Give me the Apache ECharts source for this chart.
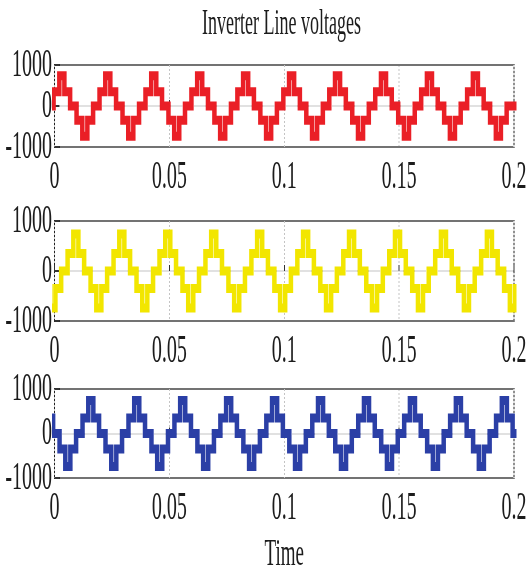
<!DOCTYPE html>
<html>
<head>
<meta charset="utf-8">
<script src="https://cdn.jsdelivr.net/npm/echarts@6/dist/echarts.min.js"></script>
<style>
  html, body { margin: 0; padding: 0; overflow: hidden; background: #fff; }
  /* the chart is laid out twice as wide and squeezed horizontally (narrow serif look) */
  #chart { width: 1056px; height: 575px; transform: scaleX(0.5); transform-origin: 0 0; }
</style>
</head>
<body>
<div id="chart"></div>
<script>
// Staircase levels (V): first and second step of each half-wave
const stepLevels = [350, 740];
// Durations (s): each first-level shoulder, and the top plateau
const stepWidths = [0.0025, 0.0022];

// Centres (s) of the positive plateaus and negative plateaus of each line voltage
const redPeaks      = [0.0032, 0.0232, 0.0432, 0.0632, 0.0832, 0.1032, 0.1232, 0.1432, 0.1632, 0.1832];
const redTroughs    = [-0.0068, 0.0132, 0.0332, 0.0532, 0.0732, 0.0932, 0.1132, 0.1332, 0.1532, 0.1732, 0.1932];
const yellowPeaks   = [0.0093, 0.0293, 0.0493, 0.0693, 0.0893, 0.1093, 0.1293, 0.1493, 0.1693, 0.1893];
const yellowTroughs = [-0.0007, 0.0193, 0.0393, 0.0593, 0.0793, 0.0993, 0.1193, 0.1393, 0.1593, 0.1793, 0.1993];
const bluePeaks     = [-0.0042, 0.0158, 0.0358, 0.0558, 0.0758, 0.0958, 0.1158, 0.1358, 0.1558, 0.1758, 0.1958];
const blueTroughs   = [0.0058, 0.0258, 0.0458, 0.0658, 0.0858, 0.1058, 0.1258, 0.1458, 0.1658, 0.1858];

const xTicks = [0, 0.05, 0.1, 0.15, 0.2];
const yTicks = [-1000, 0, 1000];
const colors = ['#ea1f26', '#f2e600', '#2b3fa6'];

// Turn plateau centres into step events [time, level]
function buildSteps(peaks, troughs) {
  const [w1, w2] = stepWidths;
  const [L1, L2] = stepLevels;
  const ev = [];
  const lobe = (c, s) => {
    const h = w2 / 2;
    ev.push([c - h - w1, s * L1], [c - h, s * L2], [c + h, s * L1], [c + h + w1, 0]);
  };
  peaks.forEach(c => lobe(c, 1));
  troughs.forEach(c => lobe(c, -1));
  ev.sort((p, q) => p[0] - q[0]);
  ev.push([0.21, ev[ev.length - 1][1]]);
  return ev;
}

const waves = [
  buildSteps(redPeaks, redTroughs),
  buildSteps(yellowPeaks, yellowTroughs),
  buildSteps(bluePeaks, blueTroughs)
];

const FONT = 'Liberation Serif';
const TXT = '#1c1c1c';
const gridTops = [65, 221, 389];
const gridHeights = [82, 100, 90];

const fmtX = v => String(+(+v).toFixed(3));
const fmtY = v => String(Math.round(v));

const option = {
  animation: false,
  backgroundColor: '#ffffff',
  title: {
    text: 'Inverter Line voltages',
    left: 558, top: 2, textAlign: 'center',
    textStyle: { fontFamily: FONT, fontSize: 36, fontWeight: 'normal', color: TXT }
  },
  grid: gridTops.map((t, i) => ({
    left: 109, width: 923, top: t, height: gridHeights[i],
    show: true, borderColor: '#222', borderWidth: 2, backgroundColor: 'transparent'
  })),
  xAxis: [0, 1, 2].map(i => ({
    type: 'value', gridIndex: i, min: xTicks[0], max: xTicks[xTicks.length - 1], interval: 0.05,
    axisLine: { show: false },
    axisTick: { show: true, inside: true, length: 6, lineStyle: { color: '#333', width: 2 } },
    splitLine: { show: true, lineStyle: { color: '#c4c4c4', type: 'dotted', width: 2 } },
    axisLabel: { fontFamily: FONT, fontSize: 40, color: TXT, margin: 10, formatter: fmtX },
    name: i === 2 ? 'Time' : '',
    nameLocation: 'middle', nameGap: 58,
    nameTextStyle: { fontFamily: FONT, fontSize: 38, color: TXT }
  })),
  yAxis: [0, 1, 2].map(i => ({
    type: 'value', gridIndex: i, min: yTicks[0], max: yTicks[yTicks.length - 1], interval: 1000,
    axisLine: { show: false },
    axisTick: { show: true, inside: true, length: 10, lineStyle: { color: '#333', width: 2 } },
    splitLine: { show: true, lineStyle: { color: '#c4c4c4', type: 'dotted', width: 2 } },
    axisLabel: { fontFamily: FONT, fontSize: 40, color: TXT, margin: 5, formatter: fmtY }
  })),
  series: waves.map((d, i) => ({
    type: 'line', xAxisIndex: i, yAxisIndex: i, data: d, step: 'end',
    showSymbol: false, symbol: 'none', clip: true,
    lineStyle: { color: colors[i], width: 9, cap: 'butt', join: 'miter' }
  }))
};

const chart = echarts.init(document.getElementById('chart'), null, { renderer: 'canvas' });
chart.setOption(option);
</script>
</body>
</html>
